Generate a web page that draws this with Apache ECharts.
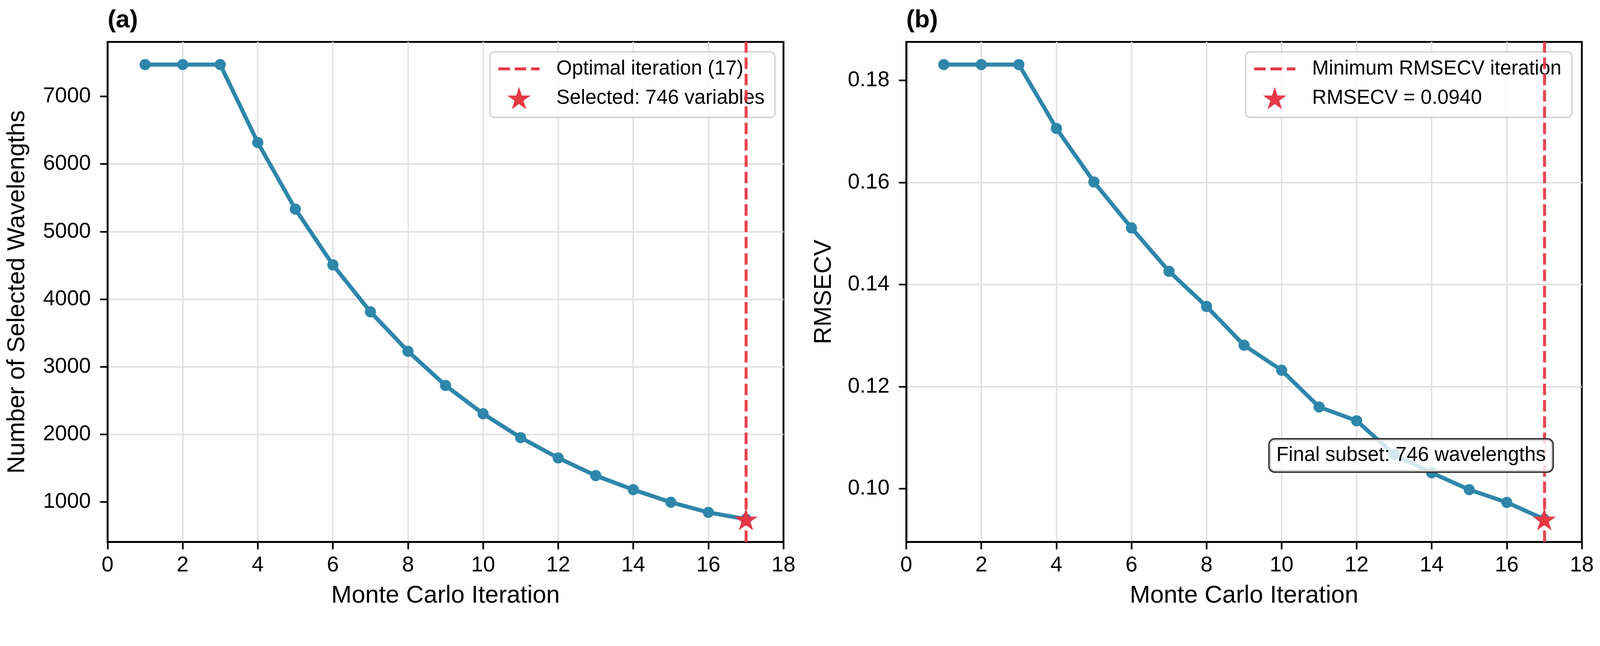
<!DOCTYPE html>
<html>
<head>
<meta charset="utf-8">
<script src="https://cdn.jsdelivr.net/npm/echarts@6/dist/echarts.min.js"></script>
<style>
    html, body { margin: 0; padding: 0; background: #ffffff; overflow: hidden; }
    #chart { width: 4313px; height: 1655px; }
</style>
</head>
<body>
<div id="chart"></div>
<script>
    // Monte Carlo iterations (x for both panels)
    var iterations = [1, 2, 3, 4, 5, 6, 7, 8, 9, 10, 11, 12, 13, 14, 15, 16, 17];
    // (a) number of selected wavelengths
    var wavelengthCounts = [7470, 7470, 7470, 6317, 5333, 4508, 3814, 3230, 2724, 2306, 1953, 1652, 1391, 1183, 997, 847, 746];
    // (b) RMSECV per iteration
    var rmsecvValues = [0.1831, 0.1831, 0.1831, 0.1706, 0.1601, 0.1511, 0.1426, 0.1357, 0.1281, 0.1232, 0.1160, 0.1133, 0.1067, 0.1031, 0.0998, 0.0973, 0.0940];

    var xTicks = [0, 2, 4, 6, 8, 10, 12, 14, 16, 18];
    var countTicks = [1000, 2000, 3000, 4000, 5000, 6000, 7000];
    var rmsecvTicks = [0.10, 0.12, 0.14, 0.16, 0.18];

    var optimalIteration = 17;
    var selectedCount = 746;
    var minRmsecv = 0.0940;
    var annotationPos = [13.45, 0.1065];

    var FONT = '"Liberation Sans", Arial, "DejaVu Sans", sans-serif';
    var BLUE = '#2E86AB';
    var RED = '#E63946';

    // layout is designed for 4313 x 1655, scale to whatever the viewport really is
    var S = Math.min(window.innerWidth / 4313, window.innerHeight / 1655) || 1;
    function px(v) {
        return v * S;
    }

    var dom = document.getElementById('chart');
    dom.style.width = px(4313) + 'px';
    dom.style.height = px(1655) + 'px';

    // matplotlib style 5% margins
    function paddedRange(values) {
        var lo = Math.min.apply(null, values);
        var hi = Math.max.apply(null, values);
        var pad = (hi - lo) * 0.05;
        return [lo - pad, hi + pad];
    }

    function pairs(xs, ys) {
        var out = [];
        for (var i = 0; i < xs.length; i++) {
            out.push([xs[i], ys[i]]);
        }
        return out;
    }

    var countRange = paddedRange(wavelengthCounts);
    var rmsecvRange = paddedRange(rmsecvValues);

    var starPath = 'path://M0,-1L0.2245,-0.309L0.951,-0.309L0.363,0.118L0.588,0.809L0,0.382L-0.588,0.809L-0.363,0.118L-0.951,-0.309L-0.2245,-0.309Z';
    // dashed line glyph for the legend (three dashes)
    var dashIcon = 'path://M0,0h31v8h-31zM44,0h31v8h-31zM88,0h23v8h-23z';
    var dash = [px(31), px(13)];

    var gridLine = {show: true, showMinLine: false, showMaxLine: false, lineStyle: {color: '#e2e2e2', width: px(4)}};

    function xAxisFor(gridIndex) {
        return {
            type: 'value',
            gridIndex: gridIndex,
            min: 0,
            max: 18,
            interval: 2,
            name: 'Monte Carlo Iteration',
            nameLocation: 'middle',
            nameGap: px(112),
            nameTextStyle: {fontSize: px(66), color: '#000', fontFamily: FONT},
            axisLine: {show: true, onZero: false, lineStyle: {color: '#000', width: px(5)}},
            axisTick: {show: true, inside: false, length: px(20), lineStyle: {color: '#000', width: px(4.5)}},
            axisLabel: {show: true, margin: px(35), fontSize: px(58), color: '#000', fontFamily: FONT},
            splitLine: gridLine
        };
    }

    function yAxisFor(gridIndex, range, ticks, name, nameGap, digits) {
        return {
            type: 'value',
            gridIndex: gridIndex,
            min: range[0],
            max: range[1],
            name: name,
            nameLocation: 'middle',
            nameGap: px(nameGap),
            nameTextStyle: {fontSize: px(66), color: '#000', fontFamily: FONT},
            axisLine: {show: true, onZero: false, lineStyle: {color: '#000', width: px(5)}},
            axisTick: {show: true, inside: false, length: px(20), customValues: ticks, lineStyle: {color: '#000', width: px(4.5)}},
            axisLabel: {
                show: true, margin: px(45), fontSize: px(58), color: '#000', fontFamily: FONT,
                customValues: ticks,
                formatter: function (v) { return v.toFixed(digits); }
            },
            splitLine: gridLine
        };
    }

    function legendFor(lineName, starName, right) {
        return {
            data: [
                {name: lineName, icon: dashIcon},
                {name: starName, icon: starPath}
            ],
            orient: 'vertical',
            right: px(right),
            top: px(140),
            itemWidth: px(111),
            itemHeight: px(60),
            itemGap: px(22),
            symbolKeepAspect: true,
            padding: [px(19), px(28), px(22), px(23)],
            backgroundColor: 'rgba(255,255,255,0.8)',
            borderColor: 'rgba(204,204,204,0.85)',
            borderWidth: px(4),
            borderRadius: px(12),
            selectedMode: false,
            itemStyle: {opacity: 1},
            textStyle: {fontSize: px(54), color: '#000', fontFamily: FONT, padding: [0, 0, 0, px(40)]}
        };
    }

    function vlineSeries(name, axisIndex) {
        return {
            name: name,
            type: 'line',
            xAxisIndex: axisIndex,
            yAxisIndex: axisIndex,
            data: [],
            symbol: 'none',
            lineStyle: {color: RED, width: px(8), type: dash},
            itemStyle: {color: RED},
            z: 3,
            markLine: {
                silent: true,
                symbol: ['none', 'none'],
                label: {show: false},
                lineStyle: {color: RED, width: px(8), type: dash, opacity: 0.95},
                data: [{xAxis: optimalIteration}]
            }
        };
    }

    function curveSeries(axisIndex, values) {
        return {
            type: 'line',
            xAxisIndex: axisIndex,
            yAxisIndex: axisIndex,
            data: pairs(iterations, values),
            symbol: 'circle',
            symbolSize: px(30),
            showAllSymbol: true,
            lineStyle: {color: BLUE, width: px(11)},
            itemStyle: {color: BLUE, opacity: 1},
            z: 4
        };
    }

    function starSeries(name, axisIndex, value) {
        return {
            name: name,
            type: 'scatter',
            xAxisIndex: axisIndex,
            yAxisIndex: axisIndex,
            data: [[optimalIteration, value]],
            symbol: starPath,
            symbolKeepAspect: true,
            symbolSize: px(63),
            itemStyle: {color: RED, opacity: 1},
            z: 6
        };
    }

    var optimalLabel = 'Optimal iteration (' + optimalIteration + ')';
    var selectedLabel = 'Selected: ' + selectedCount + ' variables';
    var minLabel = 'Minimum RMSECV iteration';
    var rmsecvLabel = 'RMSECV = ' + minRmsecv.toFixed(4);

    var chart = echarts.init(dom, null, {renderer: 'canvas'});

    var titleStyle = {fontSize: px(67), fontWeight: 'bold', color: '#000', fontFamily: FONT};

    var option = {
        animation: false,
        backgroundColor: '#ffffff',
        title: [
            {text: '(a)', left: px(290), top: px(22), padding: 0, textStyle: titleStyle},
            {text: '(b)', left: px(2443), top: px(22), padding: 0, textStyle: titleStyle}
        ],
        grid: [
            {left: px(290), top: px(113), width: px(1822), height: px(1349), show: true, borderColor: '#000', borderWidth: px(5), backgroundColor: 'transparent', outerBoundsMode: 'none', containLabel: false},
            {left: px(2443), top: px(113), width: px(1821), height: px(1349), show: true, borderColor: '#000', borderWidth: px(5), backgroundColor: 'transparent', outerBoundsMode: 'none', containLabel: false}
        ],
        xAxis: [xAxisFor(0), xAxisFor(1)],
        yAxis: [
            yAxisFor(0, countRange, countTicks, 'Number of Selected Wavelengths', 210, 0),
            yAxisFor(1, rmsecvRange, rmsecvTicks, 'RMSECV', 188, 2)
        ],
        legend: [
            legendFor(optimalLabel, selectedLabel, 4313 - 2089),
            legendFor(minLabel, rmsecvLabel, 4313 - 4237)
        ],
        series: [
            vlineSeries(optimalLabel, 0),
            curveSeries(0, wavelengthCounts),
            starSeries(selectedLabel, 0, wavelengthCounts[wavelengthCounts.length - 1]),
            vlineSeries(minLabel, 1),
            curveSeries(1, rmsecvValues),
            starSeries(rmsecvLabel, 1, rmsecvValues[rmsecvValues.length - 1])
        ]
    };
    chart.setOption(option);

    // text box annotation in panel (b)
    var annotPx = chart.convertToPixel({gridIndex: 1}, annotationPos);
    chart.setOption({
        graphic: [{
            type: 'text',
            x: annotPx[0],
            y: annotPx[1],
            z: 100,
            style: {
                text: 'Final subset: ' + selectedCount + ' wavelengths',
                align: 'center',
                verticalAlign: 'middle',
                fontSize: px(54),
                lineHeight: px(58),
                fontFamily: FONT,
                fill: '#000',
                backgroundColor: 'rgba(255,255,255,0.8)',
                borderColor: '#333333',
                borderWidth: px(4),
                borderRadius: px(14),
                padding: [px(14), px(18)]
            }
        }]
    });
</script>
</body>
</html>
